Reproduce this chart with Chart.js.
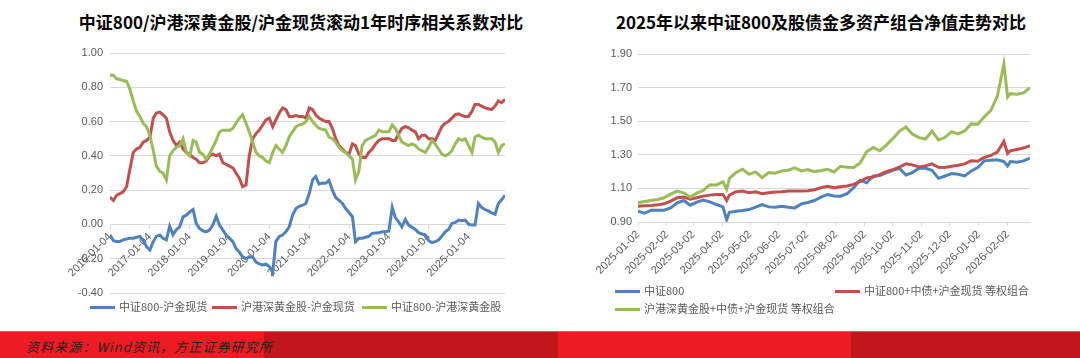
<!DOCTYPE html>
<html>
<head>
<meta charset="utf-8">
<script src="https://cdn.jsdelivr.net/npm/chart.js@4.4.1/dist/chart.umd.min.js"></script>
<style>
  body { margin: 0; width: 1080px; height: 358px; background: #fff; position: relative; overflow: hidden;
         font-family: "Noto Sans CJK SC", "Liberation Sans", sans-serif; }
  .title { position: absolute; top: 11px; font-size: 17px; font-weight: bold; color: #000;
           white-space: nowrap; line-height: 22px; transform: translateX(-50%); }
  .chart { position: absolute; top: 0; }
  .lg { position: absolute; font-size: 11px; color: #595959; white-space: nowrap; line-height: 14px; }
  .lg i { display: inline-block; width: 25px; height: 3px; vertical-align: middle; margin-right: 4px; position: relative; top: -1px; }
  .footer { position: absolute; left: 0; top: 331px; width: 1080px; height: 27px; display: flex; }
  .footer div { height: 27px; border-top: 1px solid #f0545a; box-sizing: border-box; }
  .footer-text { position: absolute; left: 26px; top: 334px; line-height: 26px; font-size: 13px; font-style: italic;
                 letter-spacing: 1.1px; color: #1e1e1e; white-space: nowrap; }
</style>
</head>
<body>
<div class="title" style="left:301px">中证800/沪港深黄金股/沪金现货滚动1年时序相关系数对比</div>
<div class="title" style="left:821px">2025年以来中证800及股债金多资产组合净值走势对比</div>

<canvas id="corrChart" class="chart" style="left:0" width="540" height="330"></canvas>
<canvas id="navChart" class="chart" style="left:540px" width="540" height="330"></canvas>

<div id="corrLegend"></div>
<div id="navLegend"></div>

<div class="footer">
  <div style="width:264px;background:#ed1c24"></div>
  <div style="width:294px;background:#c1161c"></div>
  <div style="width:293px;background:#ed1c24"></div>
  <div style="width:229px;background:#c1161c"></div>
</div>
<div class="footer-text">资料来源：Wind资讯，方正证券研究所</div>

<script>
// ---- 左图：滚动1年相关系数（月度取样，2016-01 ~ 2025-12）----
const corrTicks = ['2016-01-04', '2017-01-04', '2018-01-04', '2019-01-04', '2020-01-04',
                   '2021-01-04', '2022-01-04', '2023-01-04', '2024-01-04', '2025-01-04'];
const corrNames = ['中证800-沪金现货', '沪港深黄金股-沪金现货', '中证800-沪港深黄金股'];

const corrCsiGold = [
  -0.06, -0.095, -0.10, -0.10, -0.09, -0.085, -0.08, -0.08, -0.075, -0.07,
  -0.095, -0.13, -0.15, -0.10, -0.07, -0.062, -0.081, -0.09, -0.01, -0.06,
  -0.03, -0.014, 0.044, 0.054, 0.073, 0.087, 0.006, -0.023, -0.037, -0.043,
  -0.033, -0.004, 0.048, -0.004, -0.033, -0.062, -0.081, -0.10, -0.14, -0.16,
  -0.19, -0.20, -0.19, -0.19, -0.22, -0.23, -0.236, -0.232, -0.245, -0.28,
  -0.10, -0.07, -0.062, -0.043, -0.014, 0.054, 0.093, 0.106, 0.112, 0.122,
  0.18, 0.26, 0.28, 0.235, 0.242, 0.24, 0.257, 0.20, 0.157, 0.141,
  0.122, 0.093, 0.07, 0.045, -0.10, -0.081, -0.081, -0.075, -0.07, -0.052,
  -0.05, -0.048, -0.043, -0.043, -0.039, 0.10, 0.04, 0.015, -0.014, 0.029,
  -0.004, -0.017, -0.029, -0.048, -0.056, -0.062, -0.095, -0.106, -0.10, -0.091,
  -0.068, -0.043, -0.029, 0.006, 0.012, 0.025, 0.021, 0.025, 0.002, -0.004,
  -0.004, 0.122, 0.099, 0.087, 0.079, 0.068, 0.06, 0.122, 0.145, 0.17
];
const corrMinersGold = [
  0.16, 0.14, 0.17, 0.18, 0.19, 0.22, 0.32, 0.42, 0.44, 0.45,
  0.48, 0.49, 0.51, 0.62, 0.65, 0.655, 0.64, 0.62, 0.54, 0.49,
  0.46, 0.48, 0.44, 0.42, 0.41, 0.39, 0.38, 0.36, 0.36, 0.37,
  0.40, 0.41, 0.40, 0.41, 0.36, 0.35, 0.34, 0.33, 0.30, 0.27,
  0.22, 0.23, 0.40, 0.50, 0.53, 0.55, 0.58, 0.61, 0.62, 0.57,
  0.61, 0.65, 0.68, 0.67, 0.63, 0.63, 0.635, 0.63, 0.63, 0.62,
  0.68, 0.67, 0.64, 0.62, 0.61, 0.60, 0.60, 0.56, 0.50, 0.46,
  0.44, 0.42, 0.41, 0.47, 0.46, 0.41, 0.39, 0.39, 0.42, 0.44,
  0.47, 0.49, 0.50, 0.50, 0.50, 0.49, 0.49, 0.53, 0.56, 0.57,
  0.565, 0.55, 0.54, 0.50, 0.52, 0.52, 0.50, 0.50, 0.49, 0.53,
  0.57, 0.59, 0.60, 0.62, 0.64, 0.645, 0.635, 0.63, 0.63, 0.66,
  0.70, 0.70, 0.69, 0.68, 0.675, 0.67, 0.69, 0.72, 0.71, 0.73
];
const corrCsiMiners = [
  0.87, 0.87, 0.85, 0.845, 0.84, 0.835, 0.79, 0.72, 0.66, 0.63,
  0.59, 0.57, 0.52, 0.43, 0.34, 0.31, 0.30, 0.26, 0.40, 0.43,
  0.45, 0.46, 0.50, 0.42, 0.40, 0.49, 0.48, 0.42, 0.41, 0.38,
  0.41, 0.45, 0.49, 0.54, 0.55, 0.55, 0.55, 0.56, 0.59, 0.62,
  0.64, 0.59, 0.54, 0.48, 0.42, 0.40, 0.39, 0.37, 0.36, 0.42,
  0.46, 0.44, 0.42, 0.46, 0.51, 0.54, 0.57, 0.58, 0.585, 0.60,
  0.63, 0.60, 0.58, 0.56, 0.555, 0.55, 0.51, 0.50, 0.48, 0.45,
  0.43, 0.42, 0.40, 0.38, 0.26, 0.31, 0.46, 0.49, 0.50, 0.51,
  0.52, 0.55, 0.54, 0.54, 0.54, 0.58, 0.56, 0.52, 0.48, 0.47,
  0.46, 0.47, 0.46, 0.44, 0.43, 0.42, 0.45, 0.49, 0.47, 0.44,
  0.41, 0.40, 0.41, 0.43, 0.47, 0.50, 0.49, 0.50, 0.46, 0.42,
  0.51, 0.52, 0.51, 0.50, 0.50, 0.50, 0.48, 0.42, 0.46, 0.47
];

// 月度日期 2016-01-04 ~ 2025-12-04
const corrDates = [];
for (let y = 2016; y <= 2025; y++) {
  for (let m = 1; m <= 12; m++) corrDates.push(`${y}-${String(m).padStart(2, '0')}-04`);
}

// ---- 右图：2025年以来净值（周度取样）----
const navTicks = ['2025-01-02', '2025-02-02', '2025-03-02', '2025-04-02', '2025-05-02', '2025-06-02', '2025-07-02',
                  '2025-08-02', '2025-09-02', '2025-10-02', '2025-11-02', '2025-12-02', '2026-01-02', '2026-02-02'];
const navNames = ['中证800', '中证800+中债+沪金现货 等权组合', '沪港深黄金股+中债+沪金现货 等权组合'];
const navDates = [
  '2025-01-02', '2025-01-09', '2025-01-16', '2025-01-23', '2025-01-30', '2025-02-06', '2025-02-13', '2025-02-20',
  '2025-02-27', '2025-03-06', '2025-03-13', '2025-03-20', '2025-03-27', '2025-04-03', '2025-04-07', '2025-04-10',
  '2025-04-17', '2025-04-24', '2025-05-01', '2025-05-08', '2025-05-15', '2025-05-22', '2025-05-29', '2025-06-05',
  '2025-06-12', '2025-06-19', '2025-06-26', '2025-07-03', '2025-07-10', '2025-07-17', '2025-07-24', '2025-07-31',
  '2025-08-07', '2025-08-14', '2025-08-21', '2025-08-28', '2025-09-04', '2025-09-11', '2025-09-18', '2025-09-25',
  '2025-10-02', '2025-10-09', '2025-10-16', '2025-10-23', '2025-10-30', '2025-11-06', '2025-11-13', '2025-11-20',
  '2025-11-27', '2025-12-04', '2025-12-11', '2025-12-18', '2025-12-25', '2026-01-01', '2026-01-08', '2026-01-15',
  '2026-01-22', '2026-01-29', '2026-02-02', '2026-02-05', '2026-02-12', '2026-02-19', '2026-02-26'
];
const navCsi800 = [
  0.964, 0.952, 0.97, 0.97, 0.97, 0.984, 1.014, 1.028, 1.0, 1.018, 1.03, 1.02, 1.004, 0.99, 0.914,
  0.958, 0.964, 0.968, 0.974, 0.988, 1.004, 0.99, 0.988, 0.994, 0.988, 0.984, 1.008, 1.016, 1.028, 1.048,
  1.064, 1.055, 1.054, 1.068, 1.104, 1.148, 1.134, 1.174, 1.176, 1.192, 1.208, 1.22, 1.18, 1.194, 1.22,
  1.22, 1.208, 1.16, 1.174, 1.188, 1.184, 1.174, 1.204, 1.224, 1.264, 1.268, 1.27, 1.26, 1.234,
  1.26, 1.256, 1.264, 1.28
];
const navEqualMix = [
  0.994, 0.996, 0.998, 1.002, 1.008, 1.024, 1.044, 1.048, 1.036, 1.044, 1.054, 1.06, 1.064, 1.064, 1.028,
  1.06, 1.08, 1.084, 1.074, 1.08, 1.068, 1.074, 1.078, 1.08, 1.084, 1.084, 1.084, 1.086, 1.092, 1.104,
  1.112, 1.104, 1.11, 1.114, 1.124, 1.142, 1.162, 1.168, 1.182, 1.2, 1.212, 1.226, 1.246, 1.24, 1.228,
  1.234, 1.246, 1.226, 1.224, 1.232, 1.238, 1.246, 1.264, 1.262, 1.284, 1.296, 1.316, 1.38, 1.308,
  1.324, 1.332, 1.34, 1.354
];
const navMinersMix = [
  1.014, 1.022, 1.028, 1.034, 1.044, 1.066, 1.084, 1.074, 1.048, 1.072, 1.088, 1.122, 1.12, 1.14, 1.094,
  1.16, 1.194, 1.214, 1.184, 1.198, 1.164, 1.194, 1.19, 1.204, 1.208, 1.222, 1.204, 1.212, 1.2, 1.206,
  1.214, 1.198, 1.232, 1.226, 1.224, 1.252, 1.318, 1.344, 1.324, 1.358, 1.396, 1.44, 1.466, 1.424, 1.402,
  1.394, 1.44, 1.388, 1.404, 1.438, 1.424, 1.442, 1.484, 1.482, 1.526, 1.564, 1.648, 1.84, 1.644,
  1.664, 1.66, 1.668, 1.70
];

const BLUE = '#4f81bd';
const RED = '#c0504d';
const GREEN = '#9bbb59';
const GRID = '#d9d9d9';
const TICK = '#595959';

Chart.defaults.font.family = '"Liberation Sans", Arial, sans-serif';

const toPoints = (dates, values) => dates.map((d, i) => ({ x: Date.parse(d), y: values[i] }));
const fmt2 = v => (Math.abs(v) < 1e-9 ? 0 : v).toFixed(2);

function lineSet(label, dates, values, color, order) {
    return { label, data: toPoints(dates, values), borderColor: color, backgroundColor: color, order };
}

function buildLegend(holderId, items) {
    const holder = document.getElementById(holderId);
    items.forEach(it => {
        const el = document.createElement('div');
        el.className = 'lg';
        el.style.left = it.left + 'px';
        el.style.top = (it.cy - 7) + 'px';
        el.innerHTML = `<i style="background:${it.color}"></i>${it.text}`;
        holder.appendChild(el);
    });
}

const commonOptions = {
    responsive: false,
    animation: false,
    plugins: { legend: { display: false }, title: { display: false }, tooltip: { enabled: false } },
    elements: { point: { radius: 0 }, line: { borderWidth: 3, tension: 0 } }
};

// 左图
new Chart(document.getElementById('corrChart'), {
    type: 'line',
    data: {
        datasets: [
            lineSet(corrNames[0], corrDates, corrCsiGold, BLUE, 3),
            lineSet(corrNames[1], corrDates, corrMinersGold, RED, 2),
            lineSet(corrNames[2], corrDates, corrCsiMiners, GREEN, 1)
        ]
    },
    options: {
        ...commonOptions,
        layout: { padding: { top: 53, right: 35, bottom: 37, left: 0 } },
        scales: {
            x: {
                type: 'linear',
                position: { y: 0 },
                min: Date.parse(corrTicks[0]),
                max: Date.parse(corrDates[corrDates.length - 1]),
                afterBuildTicks: s => { s.ticks = corrTicks.map(t => ({ value: Date.parse(t) })); },
                afterFit: s => { s.height = 0; },
                ticks: {
                    autoSkip: false, minRotation: 45, maxRotation: 45, padding: 2,
                    color: TICK, font: { size: 11 },
                    callback: (v, i) => corrTicks[i]
                },
                grid: { drawOnChartArea: false, drawTicks: true, tickLength: 4, color: GRID },
                border: { display: true, color: GRID }
            },
            y: {
                min: -0.4, max: 1.0,
                afterFit: s => { s.width = 110; },
                ticks: { stepSize: 0.2, padding: 7, color: TICK, font: { size: 11 }, callback: v => fmt2(v) },
                grid: { color: GRID, drawTicks: false },
                border: { display: false }
            }
        }
    }
});

// 右图
new Chart(document.getElementById('navChart'), {
    type: 'line',
    data: {
        datasets: [
            lineSet(navNames[0], navDates, navCsi800, BLUE, 3),
            lineSet(navNames[1], navDates, navEqualMix, RED, 2),
            lineSet(navNames[2], navDates, navMinersMix, GREEN, 1)
        ]
    },
    options: {
        ...commonOptions,
        layout: { padding: { top: 54, right: 50, bottom: 48, left: 0 } },
        scales: {
            x: {
                type: 'linear',
                min: Date.parse(navDates[0]),
                max: Date.parse(navDates[navDates.length - 1]),
                afterBuildTicks: s => { s.ticks = navTicks.map(t => ({ value: Date.parse(t) })); },
                afterFit: s => { s.height = 60; },
                ticks: {
                    autoSkip: false, minRotation: 45, maxRotation: 45, padding: 2,
                    color: TICK, font: { size: 11 },
                    callback: (v, i) => navTicks[i]
                },
                grid: { drawOnChartArea: false, drawTicks: true, tickLength: 4, color: GRID },
                border: { display: true, color: GRID }
            },
            y: {
                min: 0.9, max: 1.9,
                afterFit: s => { s.width = 98; },
                ticks: { stepSize: 0.2, padding: 6, color: TICK, font: { size: 11 }, callback: v => fmt2(v) },
                grid: { color: GRID, drawTicks: false },
                border: { display: false }
            }
        }
    }
});

buildLegend('corrLegend', [
    { left: 90, cy: 306, color: BLUE, text: corrNames[0] },
    { left: 212, cy: 306, color: RED, text: corrNames[1] },
    { left: 362, cy: 306, color: GREEN, text: corrNames[2] }
]);
buildLegend('navLegend', [
    { left: 615, cy: 290, color: BLUE, text: navNames[0] },
    { left: 835, cy: 290, color: RED, text: navNames[1] },
    { left: 615, cy: 308, color: GREEN, text: navNames[2] }
]);
</script>
</body>
</html>
